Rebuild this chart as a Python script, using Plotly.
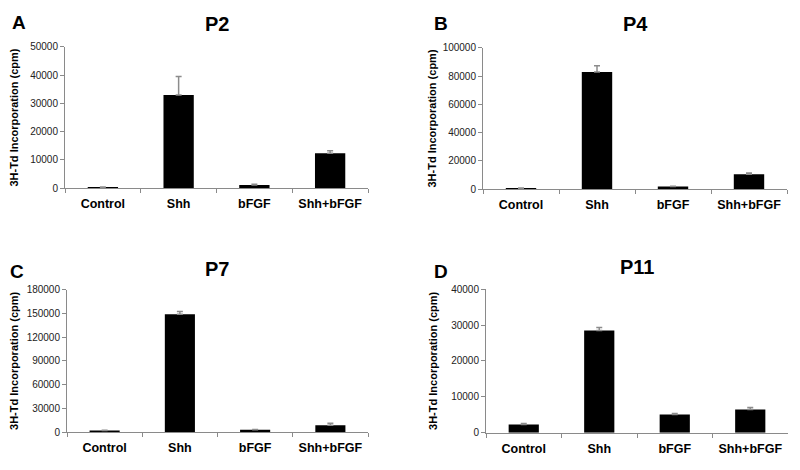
import plotly.graph_objects as go

categories = ["Control", "Shh", "bFGF", "Shh+bFGF"]

p2_values = [350, 33000, 1150, 12400]
p2_errors = [100, 6500, 300, 900]

p4_values = [700, 83000, 1900, 10500]
p4_errors = [150, 4300, 200, 900]

p7_values = [2300, 149000, 3200, 9000]
p7_errors = [300, 3500, 500, 2500]

p11_values = [2300, 28500, 5100, 6500]
p11_errors = [300, 800, 250, 550]

panels = [
    ("A", "P2", p2_values, p2_errors, 50000, 10000),
    ("B", "P4", p4_values, p4_errors, 100000, 20000),
    ("C", "P7", p7_values, p7_errors, 180000, 30000),
    ("D", "P11", p11_values, p11_errors, 40000, 10000),
]

W, H = 800, 470
# pixel boxes: (x0, x1, ytop, ybottom)
boxes = [
    (65, 368, 42, 187),
    (483, 787, 43, 188),
    (67, 368, 291, 437.5),
    (486, 788, 290.5, 438),
]
letter_pos = [(19, 17), (441, 18), (17, 272), (441, 272)]
title_y = [18, 18, 270, 268]
ytitle_x = [14, 432, 14, 433]

fig = go.Figure()
layout = dict(
    width=W, height=H,
    margin=dict(l=0, r=0, t=0, b=0),
    paper_bgcolor="white", plot_bgcolor="white",
    showlegend=False,
    font=dict(family="Arial, Liberation Sans, sans-serif", color="#222222"),
)
annotations = []
axis_color = "#8a8a8a"

for i, (letter, title, vals, errs, ymax, dtick) in enumerate(panels):
    n = i + 1
    xa = "x" if n == 1 else f"x{n}"
    ya = "y" if n == 1 else f"y{n}"
    fig.add_trace(go.Bar(
        x=categories, y=vals,
        xaxis=xa, yaxis=ya,
        marker=dict(color="black", line=dict(color="black", width=0)),
        width=0.4,
        error_y=dict(type="data", array=errs, symmetric=False, arrayminus=[0] * 4,
                     color="#8c8c8c", thickness=1.5, width=3),
    ))
    x0, x1, yt, yb = boxes[i]
    xkey = "xaxis" if n == 1 else f"xaxis{n}"
    ykey = "yaxis" if n == 1 else f"yaxis{n}"
    layout[xkey] = dict(
        domain=[x0 / W, x1 / W], anchor=ya,
        type="category", range=[-0.5, 3.5],
        showline=True, linecolor=axis_color, linewidth=1,
        ticks="outside", tickson="boundaries", ticklen=4, tickcolor=axis_color,
        tickfont=dict(size=12.5, color="black", weight="bold"),
        ticklabelstandoff=4,
        showgrid=False, zeroline=False,
    )
    layout[ykey] = dict(
        domain=[1 - yb / H, 1 - yt / H], anchor=xa,
        range=[0, ymax], dtick=dtick, tick0=0,
        showline=True, linecolor=axis_color, linewidth=1,
        ticks="outside", ticklen=4, tickcolor=axis_color,
        tickfont=dict(size=10, color="#222222"),
        showgrid=False, zeroline=False,
        tickformat="d",
    )
    annotations.append(dict(
        text=f"<b>{letter}</b>", x=letter_pos[i][0] / W, y=1 - letter_pos[i][1] / H,
        xref="paper", yref="paper", showarrow=False,
        font=dict(size=19, color="black"), xanchor="center", yanchor="middle",
    ))
    annotations.append(dict(
        text=f"<b>{title}</b>", x=(x0 + x1) / 2 / W, y=1 - title_y[i] / H,
        xref="paper", yref="paper", showarrow=False,
        font=dict(size=20, color="black"), xanchor="center", yanchor="middle",
    ))
    annotations.append(dict(
        text="<b>3H-Td Incorporation (cpm)</b>", x=ytitle_x[i] / W, y=1 - (yt + yb) / 2 / H,
        xref="paper", yref="paper", showarrow=False, textangle=-90,
        font=dict(size=11, color="black"), xanchor="center", yanchor="middle",
    ))

layout["annotations"] = annotations
fig.update_layout(**layout)
fig.write_html(
    "out.html",
    config={"displayModeBar": False},
    post_script=(
        "document.documentElement.style.margin='0';"
        "document.documentElement.style.padding='0';"
        "document.documentElement.style.overflow='hidden';"
        "document.documentElement.style.height='470px';"
        "document.body.style.margin='0';"
        "document.body.style.padding='0';"
        "document.body.style.overflow='hidden';"
        "document.body.style.height='470px';"
    ),
)
